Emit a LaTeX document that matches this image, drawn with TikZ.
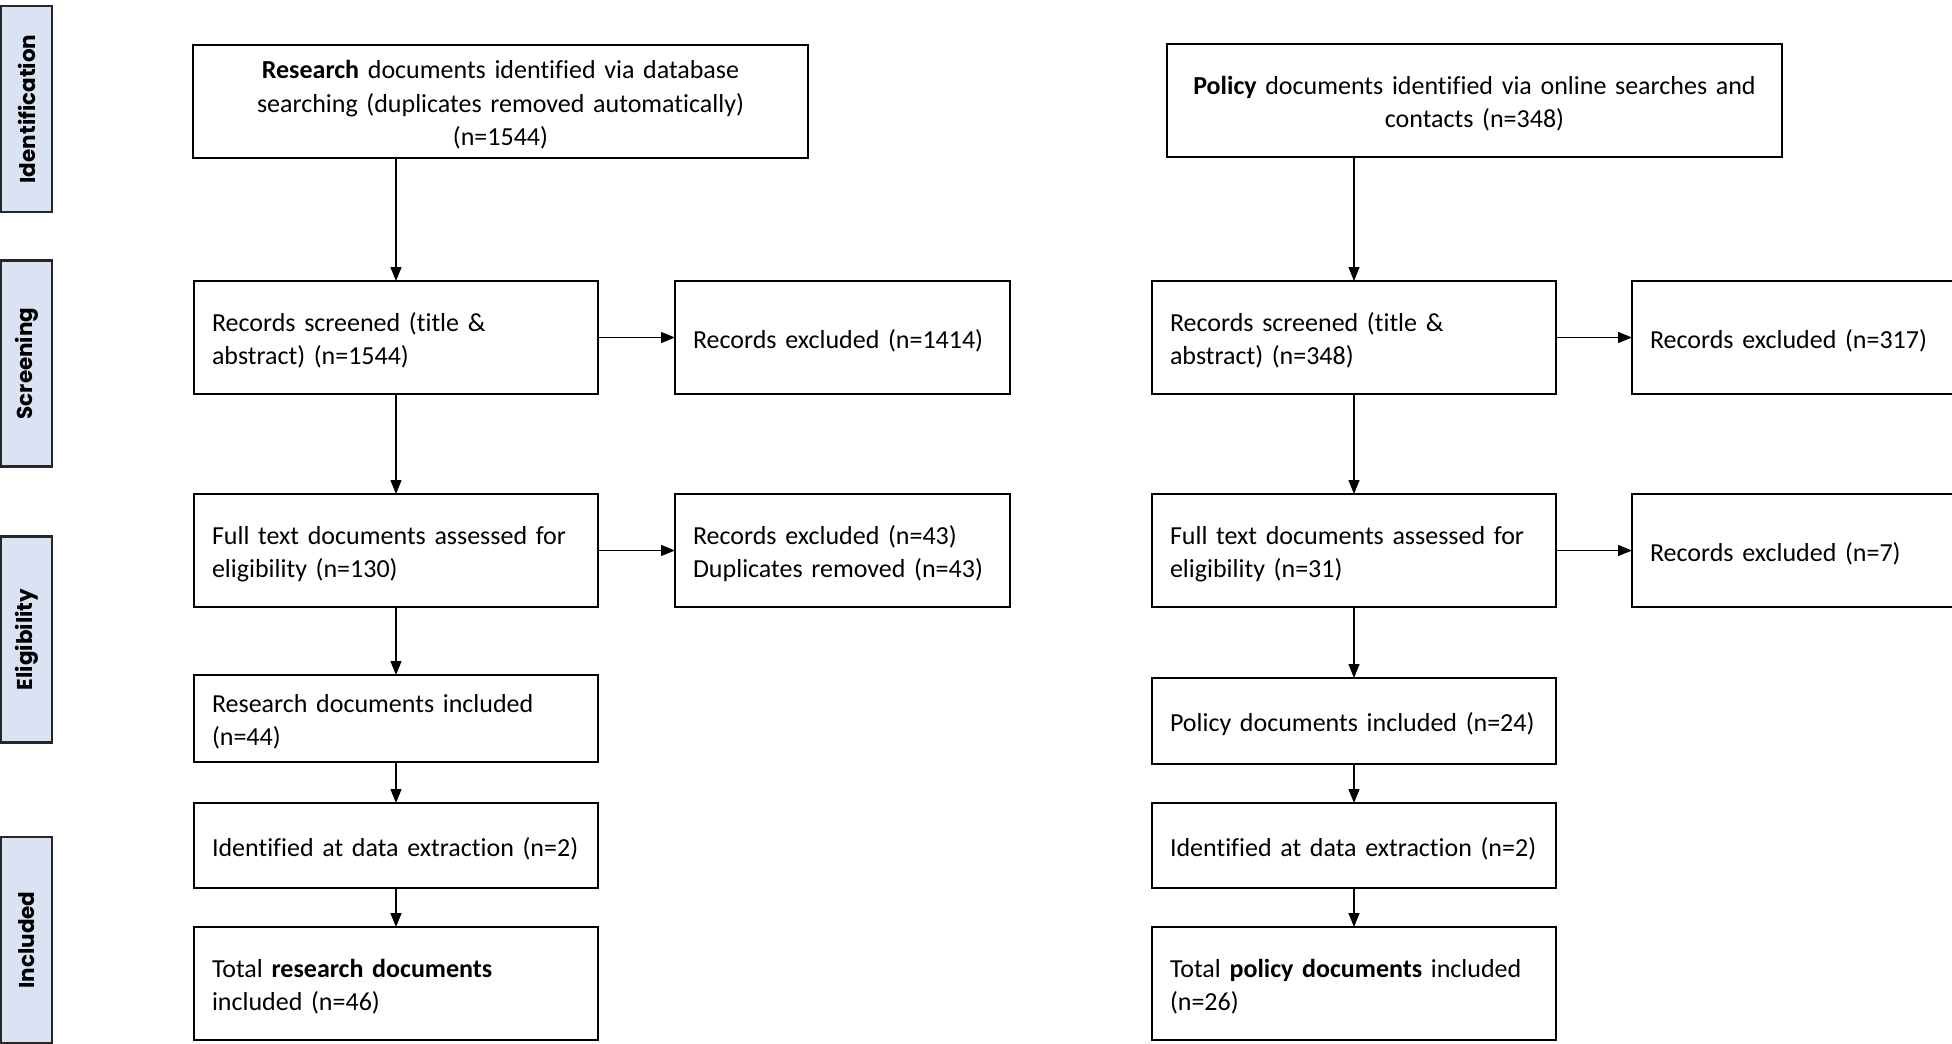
\documentclass[tikz,border=0pt]{standalone}
\usepackage{fontspec}
\setmainfont{Carlito}[Ligatures=CommonOff]
\newfontfamily\stagefont{Poppins}
\usetikzlibrary{arrows.meta, positioning}
\definecolor{stageblue}{HTML}{DAE3F3}

\begin{document}
\begin{tikzpicture}[x=1pt, y=-1pt, font=\fontsize{26}{33.5}\selectfont]
        \tikzset{
        block/.style    = {draw, line width=2pt, rectangle, outer sep=0pt, inner xsep=18pt, inner ysep=0pt, anchor=north west, align=left,
                           execute at begin node={\rule{0pt}{25pt}}},
        headbox/.style  = {block, align=center, text width=579pt, minimum height=113pt},
        wide/.style     = {block, text width=368pt},
        excl/.style     = {block, text width=299pt, minimum height=113pt},
        stage/.style    = {draw=black!85, line width=2.5pt, fill=stageblue, rotate=90, minimum width=206pt, minimum height=51pt, inner sep=0pt, font=\stagefont\bfseries\fontsize{21.5}{24}\selectfont},
        line/.style     = {line width=1.3pt, -{Triangle[length=14pt, width=11pt]}}
        }
        \useasboundingbox (0,0) rectangle (1952,1044);

        % Stage labels
        \node[stage] (lblIdent) at (26.5,109) {Identification};
        \node[stage] (lblScreen) at (26.5,363.5) {Screening};
        \node[stage] (lblElig) at (26.5,639.5) {Eligibility};
        \node[stage] (lblIncl) at (26.5,940) {Included};

        % Research branch
        \node[headbox] (resId) at (193,45) {\textbf{Research} documents identified via database\\searching (duplicates removed automatically)\\(n=1544)};
        \node[wide, minimum height=113pt] (resScr) at (194,281) {Records screened (title \&\\abstract) (n=1544)};
        \node[excl, right=77pt of resScr] (resScrEx) {Records excluded (n=1414)};
        \node[wide, minimum height=113pt, below=100pt of resScr] (resElig) {Full text documents assessed for\\eligibility (n=130)};
        \node[excl, right=77pt of resElig] (resEligEx) {Records excluded (n=43)\\Duplicates removed (n=43)};
        \node[wide, minimum height=87pt, below=68pt of resElig] (resInc) {Research documents included\\(n=44)};
        \node[wide, minimum height=85pt, below=41pt of resInc] (resExtr) {Identified at data extraction (n=2)};
        \node[wide, minimum height=113pt, below=39pt of resExtr] (resTot) {Total \textbf{research documents}\\included (n=46)};

        % Policy branch
        \node[headbox] (polId) at (1167,44) {\textbf{Policy} documents identified via online searches and\\contacts (n=348)};
        \node[wide, minimum height=113pt] (polScr) at (1152,281) {Records screened (title \&\\abstract) (n=348)};
        \node[excl, right=76pt of polScr] (polScrEx) {Records excluded (n=317)};
        \node[wide, minimum height=113pt, below=100pt of polScr] (polElig) {Full text documents assessed for\\eligibility (n=31)};
        \node[excl, right=76pt of polElig] (polEligEx) {Records excluded (n=7)};
        \node[wide, minimum height=86pt, below=71pt of polElig] (polInc) {Policy documents included (n=24)};
        \node[wide, minimum height=85pt, below=39pt of polInc] (polExtr) {Identified at data extraction (n=2)};
        \node[wide, minimum height=113pt, below=39pt of polExtr] (polTot) {Total \textbf{policy documents} included\\(n=26)};

        % Connections
        \draw[line] (resId.south -| resScr.north) -- (resScr.north);
        \draw[line] (resScr) -- (resScrEx);
        \draw[line] (resScr) -- (resElig);
        \draw[line] (resElig) -- (resEligEx);
        \draw[line] (resElig) -- (resInc);
        \draw[line] (resInc) -- (resExtr);
        \draw[line] (resExtr) -- (resTot);

        \draw[line] (polId.south -| polScr.north) -- (polScr.north);
        \draw[line] (polScr) -- (polScrEx);
        \draw[line] (polScr) -- (polElig);
        \draw[line] (polElig) -- (polEligEx);
        \draw[line] (polElig) -- (polInc);
        \draw[line] (polInc) -- (polExtr);
        \draw[line] (polExtr) -- (polTot);
    \end{tikzpicture}
\end{document}
